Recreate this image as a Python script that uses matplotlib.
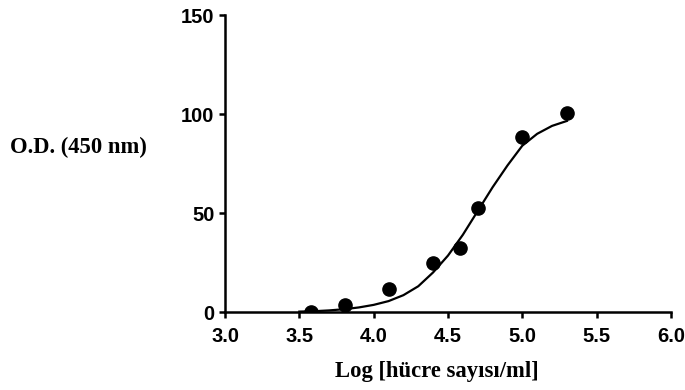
import matplotlib
matplotlib.use('Agg')
import matplotlib.pyplot as plt

# measured points
log_cells = [3.58, 3.81, 4.10, 4.40, 4.58, 4.70, 5.00, 5.30]
od = [0.0, 3.5, 11.8, 24.6, 32.5, 52.7, 88.2, 100.3]

# fitted curve
curve_x = [3.50, 3.60, 3.70, 3.80, 3.90, 4.00, 4.10, 4.20, 4.30, 4.40,
           4.50, 4.60, 4.70, 4.80, 4.90, 5.00, 5.10, 5.20, 5.30]
curve_y = [0.2, 0.4, 0.8, 1.4, 2.3, 3.6, 5.5, 8.5, 13.0, 20.0,
           28.5, 39.0, 51.0, 63.0, 74.0, 84.0, 90.0, 94.0, 96.5]

xticks = [3.0, 3.5, 4.0, 4.5, 5.0, 5.5, 6.0]
yticks = [0, 50, 100, 150]

fig = plt.figure(figsize=(6.85, 3.9), dpi=100)
ax = fig.add_axes([0.3285, 0.2, 0.651, 0.7615])

ax.plot(curve_x, curve_y, color='black', linewidth=1.6, zorder=2)
ax.plot(log_cells, od, 'o', color='black', markersize=9.5, zorder=3)

ax.set_xlim(3.0, 6.0)
ax.set_ylim(0, 150)
ax.set_xticks(xticks)
ax.set_xticklabels(['%.1f' % t for t in xticks])
ax.set_yticks(yticks)

for s in ['top', 'right']:
    ax.spines[s].set_visible(False)
for s in ['left', 'bottom']:
    ax.spines[s].set_linewidth(1.8)

ax.tick_params(axis='both', direction='out', length=4.5, width=1.8,
               labelsize=14.5)
ax.tick_params(axis='x', pad=6)
ax.tick_params(axis='y', pad=3)
for lab in ax.get_xticklabels() + ax.get_yticklabels():
    lab.set_fontfamily('Liberation Sans')
    lab.set_fontweight('bold')

ax.set_xlabel('Log [hücre sayısı/ml]', fontsize=16.3, fontweight='bold',
              family='Liberation Serif', va='center')
ax.xaxis.set_label_coords(0.475, -0.2)
ax.set_ylabel('O.D. (450 nm)', fontsize=16.3, fontweight='bold',
              family='Liberation Serif', rotation=0, ha='center', va='center')
ax.yaxis.set_label_coords(-0.328, 0.555)

fig.savefig('out.png', dpi=100)
